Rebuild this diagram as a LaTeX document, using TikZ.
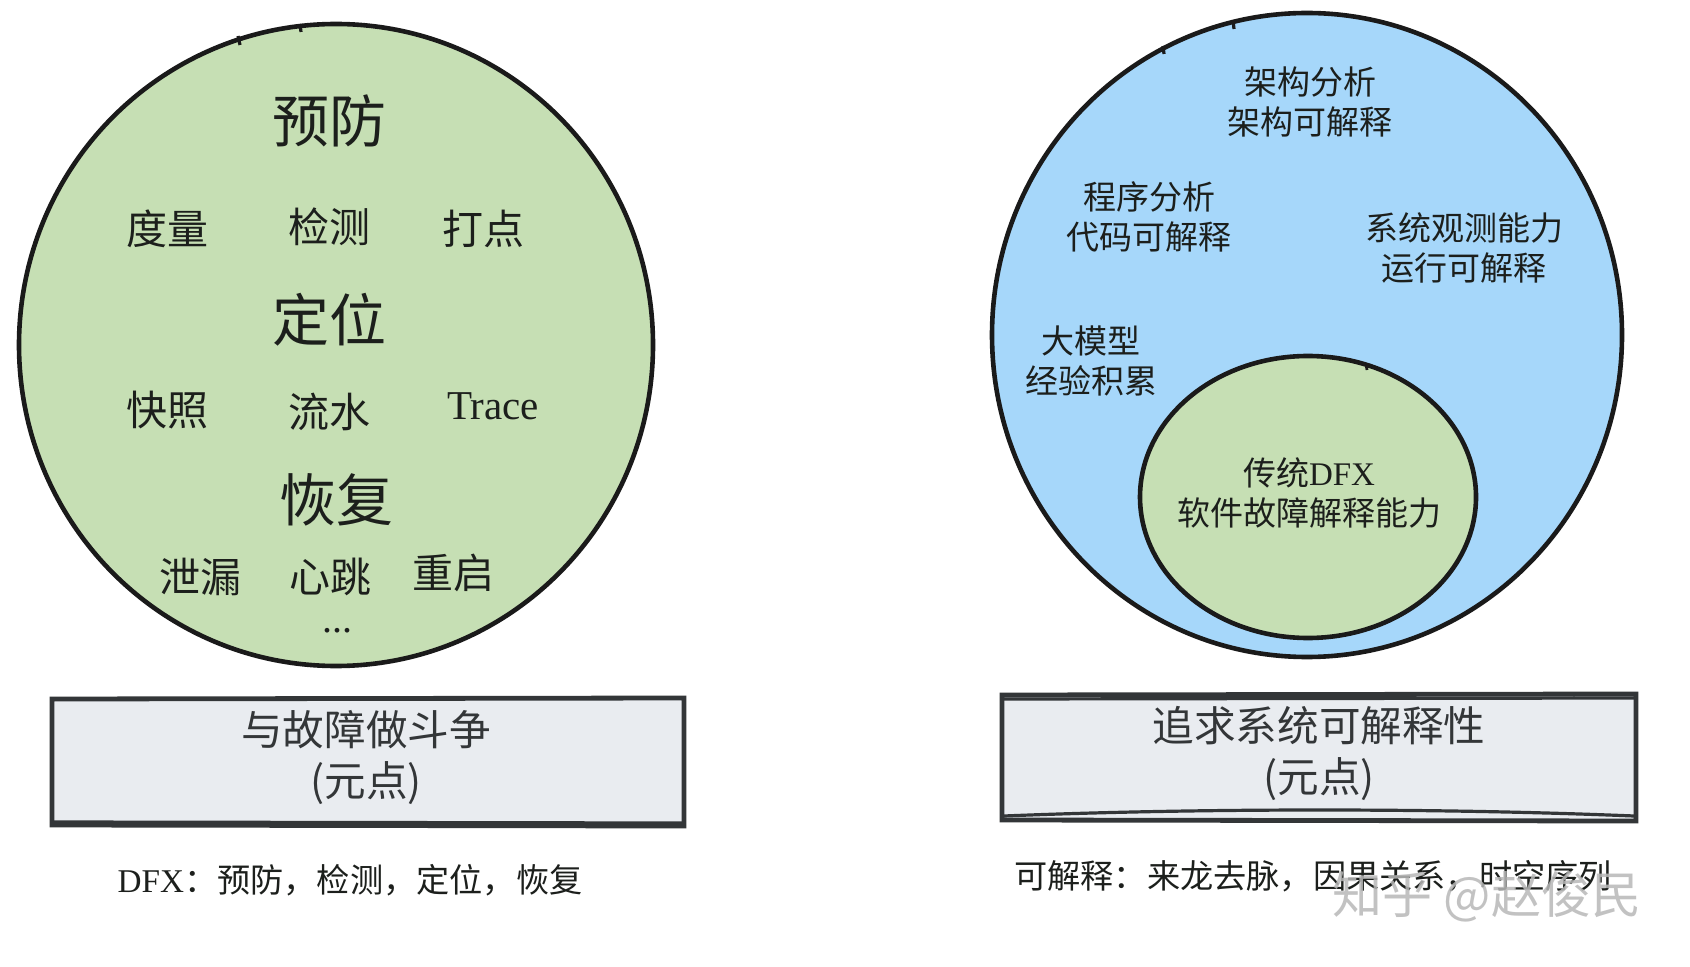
\documentclass[tikz,border=0pt]{standalone}
\usepackage{fontspec}
\setmainfont{Noto Sans CJK SC}
\newfontfamily\latf{Liberation Serif}
\definecolor{cgreen}{HTML}{C6DFB4}
\definecolor{cblue}{HTML}{A6D7FA}
\definecolor{cbox}{HTML}{E9ECF0}
\definecolor{cline}{HTML}{1A1A1A}
\definecolor{cboxline}{HTML}{333638}
\definecolor{ctext}{HTML}{1C1F1C}
\definecolor{cwm}{HTML}{B8B8B8}
\begin{document}
\begin{tikzpicture}[x=0.5pt,y=-0.5pt,
  shapeline/.style={draw=cline,line width=2.3pt},
  bigt/.style={text=ctext,font=\fontsize{28.5}{32}\selectfont,inner sep=0pt},
  midt/.style={text=ctext,font=\fontsize{20.5}{24}\selectfont,inner sep=0pt},
  smallt/.style={text=ctext,font=\fontsize{16.5}{19.8}\selectfont,inner sep=0pt,align=center},
  boxt/.style={text=cboxline,font=\fontsize{20.8}{25.5}\selectfont,inner sep=0pt,align=center},
  capt/.style={text=ctext,font=\fontsize{16.6}{20}\selectfont,inner sep=0pt},
  boxline/.style={draw=cboxline,line width=2.4pt}]
\useasboundingbox (0,0) rectangle (1690,967);
\fill[white] (0,0) rectangle (1690,967);

% left circle
\fill[cgreen] (336,345) ellipse [x radius=317, y radius=321];
\draw[shapeline] (336,345) ellipse [x radius=317, y radius=321];
\draw[cline,line width=1.4pt] (336,345) ++(-109:317 and 321) arc[start angle=-109, end angle=-99, x radius=320, y radius=325];
\draw[cline,line width=1.6pt] (300,24) -- (301,32);
\draw[cline,line width=1.6pt] (238,36) -- (240,45);

% right circle
\fill[cblue] (1307,335) ellipse [x radius=315, y radius=322];
\draw[shapeline] (1307,335) ellipse [x radius=315, y radius=322];
\draw[cline,line width=1.4pt] (1307,335) ++(-112:315 and 322) arc[start angle=-112, end angle=-100, x radius=318, y radius=325];
\draw[cline,line width=1.6pt] (1233,20) -- (1234,29);
\draw[cline,line width=1.6pt] (1163,46) -- (1164,54);

% inner ellipse
\fill[cgreen] (1308,497) ellipse [x radius=168, y radius=141];
\draw[shapeline] (1308,497) ellipse [x radius=168, y radius=141];
\draw[cline,line width=1.4pt] (1308,497) ++(-95:168 and 141) arc[start angle=-95, end angle=-80, x radius=170, y radius=143];
\draw[cline,line width=1.4pt] (1366,364) -- (1367,370);

% left circle texts
\node[bigt] (yf) at (329,121) {预防};
\node[midt] (dl) at (167,229) {度量};
\node[midt] (jc) at (329,227) {检测};
\node[midt] (dd) at (483,229) {打点};
\node[bigt] (dw) at (329,320) {定位};
\node[midt] (kz) at (167,410) {快照};
\node[midt] (ls) at (329,412) {流水};
\node[text=ctext,font=\latf\fontsize{20.5}{24}\selectfont,inner sep=0pt] (tr) at (493,406) {Trace};
\node[bigt] (hf) at (336,500) {恢复};
\node[midt] (xl) at (200,577) {泄漏};
\node[midt] (xt) at (330,577) {心跳};
\node[midt] (cq) at (453,573) {重启};
\node[text=ctext,font=\latf\fontsize{20}{24}\selectfont,inner sep=0pt] (dots) at (337,631) {...};

% right circle texts
\node[smallt] (jg) at (1310,102) {架构分析\\架构可解释};
\node[smallt] (cx) at (1149,217) {程序分析\\代码可解释};
\node[smallt] (xg) at (1464,248) {系统观测能力\\运行可解释};
\node[smallt] (dm) at (1091,361) {大模型\\经验积累};
\node[smallt] (ct) at (1309,493) {传统{\latf DFX}\\软件故障解释能力};

% boxes
\fill[cbox] (52,699) rectangle (684,826);
\draw[boxline] (52,699) -- (684,698) -- (684,826) -- (52,825) -- cycle;
\draw[draw=cboxline,line width=1.6pt] (54,822) -- (682,823);
\node[boxt] (b1) at (366,758) {与故障做斗争\\(元点)};

\fill[cbox] (1002,695) rectangle (1636,821);
\draw[boxline] (1002,695) -- (1636,694) -- (1636,821) -- (1002,820) -- cycle;
\draw[draw=cboxline,line width=1.6pt] (1004,699) -- (1634,698);
\draw[draw=cboxline,line width=1.6pt] (1004,816) .. controls (1200,808) and (1440,808) .. (1634,816);
\node[boxt] (b2) at (1319,753) {追求系统可解释性\\(元点)};

% captions
\node[capt] (c1) at (350,880) {{\latf DFX}：预防，检测，定位，恢复};
\node[capt] (c2) at (1313,876) {可解释：来龙去脉，因果关系，时空序列};

% watermark
\node[text=cwm,opacity=0.85,font=\fontsize{25}{30}\selectfont,inner sep=0pt] (wm) at (1487,897) {知乎 @赵俊民};
\end{tikzpicture}
\end{document}
